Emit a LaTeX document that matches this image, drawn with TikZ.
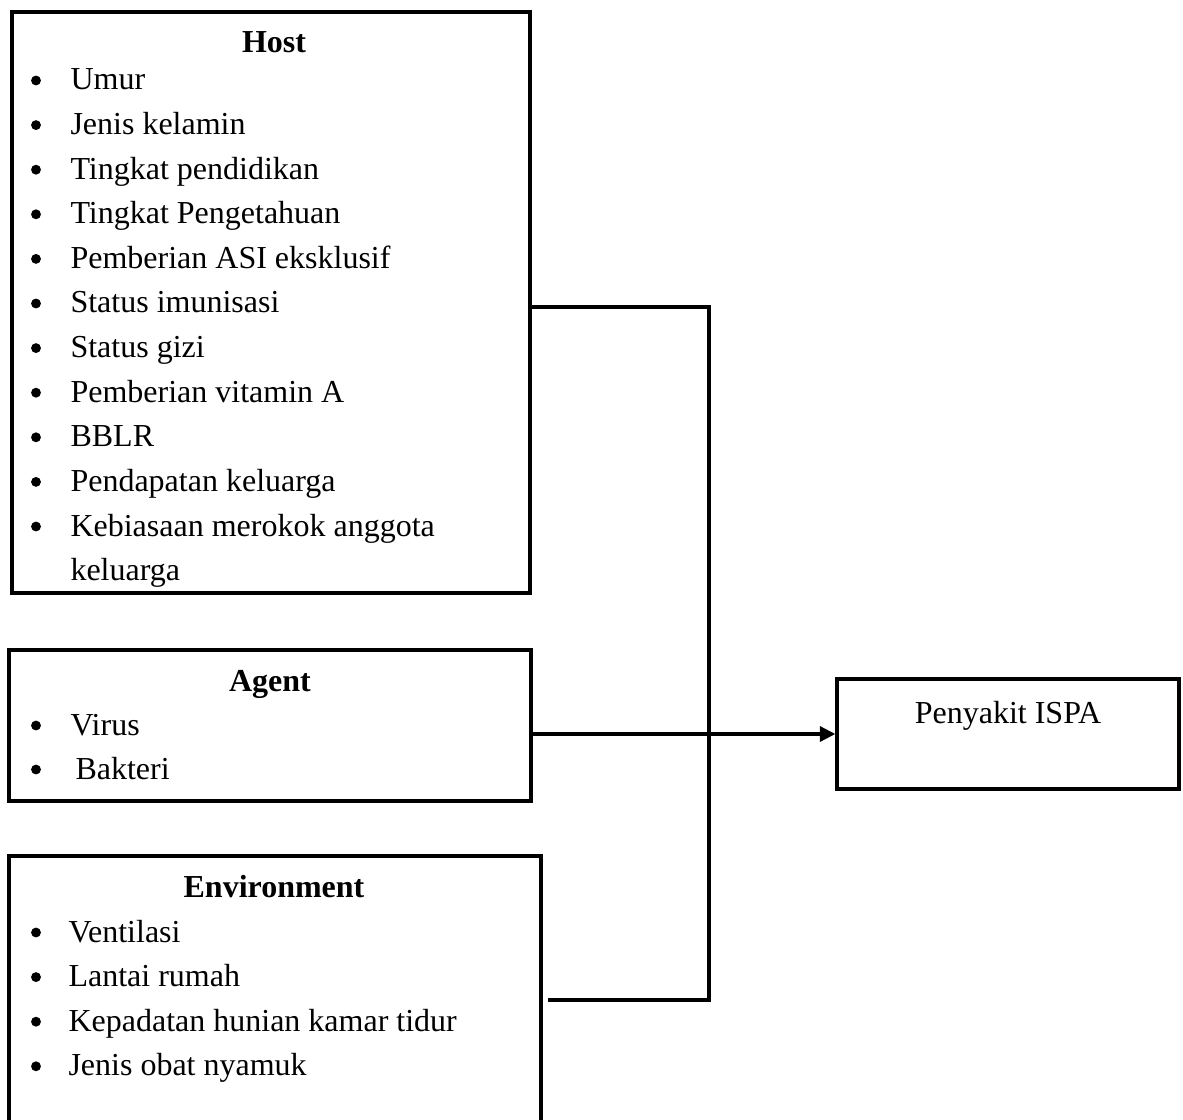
\documentclass[tikz,border=0pt]{standalone}
\usepackage{fontspec}
\setmainfont{Liberation Serif}
\usetikzlibrary{arrows.meta}

\begin{document}
\begin{tikzpicture}[
    x=0.375pt, y=-0.375pt,
    txt/.style={font=\fontsize{12pt}{14pt}\selectfont, inner sep=0pt},
    box/.style={draw, line width=1.2pt, inner sep=0pt},
    head/.style={txt, anchor=base, font=\fontsize{12pt}{14pt}\selectfont\bfseries},
    item/.style={txt, anchor=base west},
    dot/.style={circle, fill, inner sep=0pt, minimum size=3.7pt},
    link/.style={line width=1.25pt}
]
\useasboundingbox (0,0) rectangle (1183,1120);

% Boxes
\node[box, minimum width=194.25pt, minimum height=217.9pt] (host) at (271,302.5) {};
\node[box, minimum width=195.75pt, minimum height=56.6pt] (agent) at (270,725.5) {};
\node[box, minimum width=199.5pt, minimum height=106.5pt] (env) at (275,998) {};
\node[box, minimum width=128.25pt, minimum height=41.25pt] (ispa) at (1008,734) {};

% Host
\node[head] (hosttitle) at (274,53) {Host};
\foreach \t [count=\i] in {Umur, Jenis kelamin, Tingkat pendidikan, Tingkat Pengetahuan,
    Pemberian ASI eksklusif, Status imunisasi, Status gizi, Pemberian vitamin A,
    BBLR, Pendapatan keluarga, Kebiasaan merokok anggota}
{
    \node[dot] (hostdot\i) at (36,{80.5+44.6*(\i-1)}) {};
    \node[item] (hostitem\i) at (70,{90+44.6*(\i-1)}) {\t};
}
\node[item] (hostitem12) at (70,580.6) {keluarga};

% Agent
\node[head] (agenttitle) at (270,691) {Agent};
\node[dot] (agentdot1) at (36,725.5) {};
\node[item] (agentitem1) at (70,735) {Virus};
\node[dot] (agentdot2) at (36,769.5) {};
\node[item] (agentitem2) at (75,779) {Bakteri};

% Environment
\node[head] (envtitle) at (274,897) {Environment};
\foreach \t [count=\i] in {Ventilasi, Lantai rumah, Kepadatan hunian kamar tidur, Jenis obat nyamuk}
{
    \node[dot] (envdot\i) at (36,{932.5+44.6*(\i-1)}) {};
    \node[item] (envitem\i) at (68,{942+44.6*(\i-1)}) {\t};
}

% Outcome
\node[txt, anchor=base] (ispatext) at (1008,723) {Penyakit ISPA};

% Connectors
\coordinate (jtop) at (709,307);
\coordinate (jbot) at (709,1000);
\coordinate (envend) at (548,1000);
\draw[link] (host.east |- jtop) -- (jtop) -- (jbot) -- (envend);
\draw[link, -{Triangle[length=5.8pt, width=5.6pt]}] (agent.east |- ispa.west) -- (ispa.west);

\end{tikzpicture}
\end{document}
